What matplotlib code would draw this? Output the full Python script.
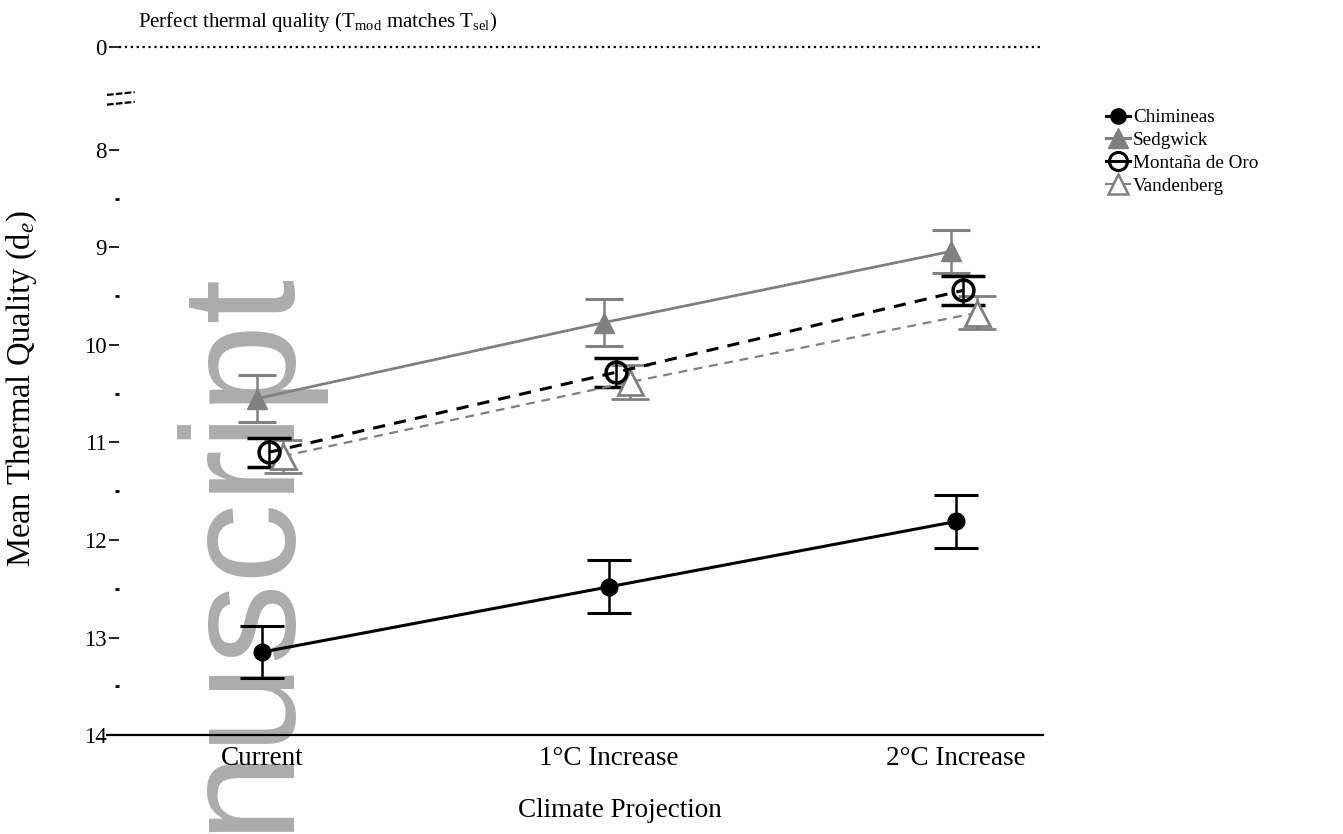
import matplotlib
matplotlib.use("Agg")
import matplotlib.pyplot as plt
from matplotlib.lines import Line2D

# ---- data -------------------------------------------------------------
categories = ["Current", "1°C Increase", "2°C Increase"]

chimineas_mean = [13.15, 12.48, 11.81]
chimineas_se = [0.27, 0.27, 0.27]

sedgwick_mean = [10.55, 9.77, 9.04]
sedgwick_se = [0.24, 0.24, 0.22]

montana_mean = [11.10, 10.28, 9.44]
montana_se = [0.15, 0.15, 0.15]

vandenberg_mean = [11.14, 10.38, 9.67]
vandenberg_se = [0.17, 0.17, 0.17]

y_ticks = [8, 9, 10, 11, 12, 13, 14]
y_minor = [8.5, 9.5, 10.5, 11.5, 12.5, 13.5]

# ---- style ------------------------------------------------------------
plt.rcParams["font.family"] = ["Liberation Serif", "DejaVu Serif"]
plt.rcParams["mathtext.fontset"] = "custom"
plt.rcParams["mathtext.rm"] = "Liberation Serif"
plt.rcParams["mathtext.it"] = "Liberation Serif:italic"

GRAY = "#808080"
BREAK_POS = 6.94   # where the "0" (perfect quality) level is drawn above the axis break

fig = plt.figure(figsize=(13.43, 8.34), dpi=100)
W, H = 1343, 834
ax = fig.add_axes([119 / W, 1 - 735 / H, (1043 - 119) / W, (735 - 40) / H])
ax.patch.set_alpha(0)

# watermark lettering behind the data
ax.text(284 / W, 2 / H, "nuscript", transform=fig.transFigure, rotation=90,
        rotation_mode="anchor", ha="left", va="baseline",
        family="Liberation Sans", fontsize=116, color="#acacac", zorder=0.5,
        clip_on=False)

x = list(range(len(categories)))

def xs(offset):
    return [v + offset for v in x]

common = dict(elinewidth=1.8, capthick=2.2, zorder=3)

ax.errorbar(xs(0.0), chimineas_mean, yerr=chimineas_se, color="black",
            lw=2.2, marker="o", ms=12, mfc="black", mec="black",
            capsize=16, **common)
ax.errorbar(xs(-0.015), sedgwick_mean, yerr=sedgwick_se, color=GRAY,
            lw=2.0, marker="^", ms=15, mfc=GRAY, mec=GRAY,
            capsize=14, **common)
ax.errorbar(xs(0.06), vandenberg_mean, yerr=vandenberg_se, color=GRAY,
            lw=1.6, ls=(0, (4, 3)), marker="^", ms=18, mfc="white", mec=GRAY,
            mew=2, capsize=14, **common)
ax.errorbar(xs(0.02), montana_mean, yerr=montana_se, color="black",
            lw=2.2, ls=(0, (4, 3)), marker="o", ms=15, mfc="none", mec="black",
            mew=2.5, capsize=16, **common)

# axes limits and ticks
ax.set_xlim((119 - 262) / 347, (1043 - 262) / 347)
ax.set_ylim(14, 8 - (150 - 40) / 97.5)

ax.set_xticks(x)
ax.set_xticklabels(categories, fontsize=19.5)
ax.tick_params(axis="x", length=0, pad=8)

ax.set_yticks([BREAK_POS] + y_ticks)
ax.set_yticklabels(["0"] + [str(t) for t in y_ticks], fontsize=16.5)
ax.set_yticks(y_minor, minor=True)
ax.tick_params(axis="y", which="major", length=7, width=1.2, pad=2,
               direction="out")
ax.tick_params(axis="y", which="minor", length=3, width=2, direction="out")

for side in ("left", "right", "top", "bottom"):
    ax.spines[side].set_visible(False)

# bottom axis line, extending a little left of the y ticks
ax.plot([-0.013, 1.0], [0, 0], transform=ax.transAxes, color="black",
        lw=1.6, clip_on=False, zorder=4)

# perfect-quality reference line
ax.axhline(BREAK_POS, xmin=0.0, xmax=1.0, color="black", lw=1.6, ls=":",
           zorder=2)

# axis-break marks
for yb in (0.923, 0.909):
    ax.plot([-0.013, 0.017], [yb - 0.002, yb + 0.002], transform=ax.transAxes,
            color="black", lw=1.6, ls=(0, (3, 1)), clip_on=False)

fig.text(138 / W, 1 - 27 / H,
         r"Perfect thermal quality (T$_{\mathrm{mod}}$ matches T$_{\mathrm{sel}}$)",
         fontsize=15, va="baseline", ha="left")

ax.set_xlabel("Climate Projection", fontsize=19.5)
ax.xaxis.set_label_coords((620 - 119) / (1043 - 119), -0.091)
fig.text(22 / W, 1 - 388 / H, r"Mean Thermal Quality (d$_{e}$)", rotation=90,
         fontsize=23.5, ha="center", va="center")

handles = [
    Line2D([], [], color="black", lw=2.2, marker="o", ms=11, mfc="black"),
    Line2D([], [], color=GRAY, lw=2.2, marker="^", ms=15, mfc=GRAY, mec=GRAY),
    Line2D([], [], color="black", lw=2.2, marker="o", ms=13, mfc="none",
           mec="black", mew=2.2),
    Line2D([], [], color=GRAY, lw=1.5, marker="^", ms=15, mfc="white",
           mec=GRAY, mew=1.8),
]
labels = ["Chimineas", "Sedgwick", "Montaña de Oro", "Vandenberg"]
fig.legend(handles, labels, loc="upper left",
           bbox_to_anchor=(1106 / W, 1 - 109 / H), frameon=False,
           fontsize=13.8, handlelength=1.25, handletextpad=0.15,
           labelspacing=0.28, borderaxespad=0, borderpad=0)

fig.savefig("out.png", dpi=100)
